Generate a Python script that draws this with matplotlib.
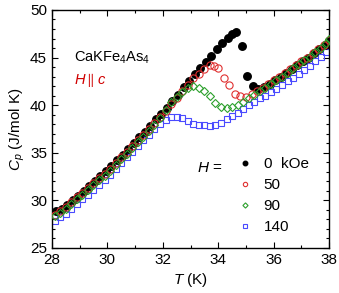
import matplotlib
matplotlib.use('Agg')
import matplotlib.pyplot as plt
from matplotlib.ticker import MultipleLocator

plt.rcParams['font.family'] = ['Liberation Sans', 'DejaVu Sans']
plt.rcParams['mathtext.fontset'] = 'custom'
plt.rcParams['mathtext.rm'] = 'Liberation Sans'
plt.rcParams['mathtext.it'] = 'Liberation Sans:italic'

# H = 0 kOe
T_0 = [28.15, 28.35, 28.55, 28.75, 28.95, 29.15, 29.35, 29.55, 29.75, 29.95,
       30.15, 30.35, 30.55, 30.75, 30.95, 31.15, 31.35, 31.55, 31.75, 31.95,
       32.15, 32.35, 32.55, 32.75, 32.95, 33.15, 33.35, 33.55, 33.75, 33.95,
       34.15, 34.35, 34.5, 34.65, 34.85, 35.05, 35.25, 35.45, 35.65, 35.85,
       36.05, 36.25, 36.45, 36.65, 36.85, 37.05, 37.25, 37.45, 37.65, 37.85, 38.0]
C_0 = [28.9, 29.1, 29.5, 30.0, 30.5, 31.0, 31.5, 32.0, 32.6, 33.1,
       33.6, 34.2, 34.8, 35.4, 36.0, 36.6, 37.2, 37.8, 38.5, 39.1,
       39.7, 40.4, 41.1, 41.9, 42.5, 43.3, 43.9, 44.5, 45.2, 45.9,
       46.5, 47.1, 47.5, 47.7, 46.2, 43.1, 42.0, 41.7, 41.9, 42.2,
       42.6, 43.0, 43.4, 43.8, 44.2, 44.6, 45.0, 45.45, 45.9, 46.35, 46.75]

# H = 50 kOe
T_50 = [28.1, 28.3, 28.5, 28.7, 28.9, 29.1, 29.3, 29.5, 29.7, 29.9,
        30.1, 30.3, 30.5, 30.7, 30.9, 31.1, 31.3, 31.5, 31.7, 31.9,
        32.1, 32.3, 32.5, 32.7, 32.9, 33.1, 33.3, 33.5, 33.7, 33.85,
        34.0, 34.2, 34.37, 34.6, 34.8, 35.0, 35.2, 35.4, 35.6, 35.8,
        36.0, 36.2, 36.4, 36.6, 36.8, 37.0, 37.2, 37.4, 37.6, 37.8, 38.0]
C_50 = [28.5, 28.9, 29.3, 29.8, 30.3, 30.8, 31.3, 31.8, 32.3, 32.8,
        33.3, 33.9, 34.5, 35.1, 35.7, 36.3, 36.9, 37.5, 38.1, 38.8,
        39.4, 40.1, 40.8, 41.5, 42.1, 42.8, 43.3, 43.8, 44.2, 44.15,
        43.95, 42.8, 42.1, 41.15, 41.0, 40.85, 41.2, 41.5, 41.85, 42.2,
        42.6, 43.0, 43.4, 43.8, 44.2, 44.6, 45.0, 45.45, 45.9, 46.35, 46.8]

# H = 90 kOe
T_90 = [28.1, 28.3, 28.5, 28.7, 28.9, 29.1, 29.3, 29.5, 29.7, 29.9,
        30.1, 30.3, 30.5, 30.7, 30.9, 31.1, 31.3, 31.5, 31.7, 31.9,
        32.1, 32.3, 32.5, 32.7, 32.9, 33.1, 33.3, 33.5, 33.7, 33.9,
        34.1, 34.3, 34.5, 34.7, 34.9, 35.1, 35.3, 35.5, 35.7, 35.9,
        36.1, 36.3, 36.5, 36.7, 36.9, 37.1, 37.3, 37.5, 37.7, 37.9, 38.0]
C_90 = [28.3, 28.7, 29.1, 29.6, 30.1, 30.6, 31.1, 31.6, 32.1, 32.6,
        33.1, 33.7, 34.3, 34.9, 35.5, 36.1, 36.7, 37.3, 37.9, 38.7,
        39.5, 40.3, 40.9, 41.4, 41.85, 42.0, 41.8, 41.45, 40.95, 40.2,
        39.8, 39.75, 39.85, 40.05, 40.3, 40.7, 41.1, 41.45, 41.8, 42.2,
        42.6, 43.0, 43.4, 43.85, 44.3, 44.7, 45.1, 45.55, 46.0, 46.5, 46.9]

# H = 140 kOe
T_140 = [28.1, 28.3, 28.5, 28.7, 28.9, 29.1, 29.3, 29.5, 29.7, 29.9,
         30.1, 30.3, 30.5, 30.7, 30.9, 31.1, 31.3, 31.5, 31.7, 31.9,
         32.1, 32.3, 32.5, 32.7, 32.9, 33.1, 33.3, 33.5, 33.7, 33.9,
         34.1, 34.3, 34.5, 34.7, 34.9, 35.1, 35.3, 35.5, 35.7, 35.9,
         36.1, 36.3, 36.5, 36.7, 36.9, 37.1, 37.3, 37.5, 37.7, 37.9, 38.0]
C_140 = [27.8, 28.2, 28.6, 29.1, 29.6, 30.1, 30.6, 31.1, 31.6, 32.1,
         32.7, 33.3, 33.9, 34.5, 35.1, 35.7, 36.3, 36.9, 37.5, 38.0,
         38.45, 38.8, 38.8, 38.6, 38.3, 38.05, 37.95, 37.9, 37.8, 37.9,
         38.15, 38.5, 38.85, 39.2, 39.6, 40.0, 40.35, 40.7, 41.0, 41.35,
         41.7, 42.1, 42.5, 42.9, 43.3, 43.7, 44.1, 44.6, 45.05, 45.6, 46.2]

labels = ['0  kOe', '50', '90', '140']

fig, ax = plt.subplots(figsize=(3.39, 2.93), dpi=100)
fig.subplots_adjust(left=0.153, right=0.971, top=0.966, bottom=0.154)

l0, = ax.plot(T_0, C_0, 'o', color='black', ms=5.4, mec='black', zorder=3)
l50, = ax.plot(T_50, C_50, 'o', color='#e03030', mfc='none', ms=5.2, mew=0.8, zorder=4)
l90, = ax.plot(T_90, C_90, 'D', color='#2ca02c', mfc='none', ms=4.4, mew=0.8, zorder=5)
l140, = ax.plot(T_140, C_140, 's', color='#4a4aff', mfc='none', ms=4.8, mew=0.8, zorder=2)

ax.set_xlim(28, 38)
ax.set_ylim(25, 50)
ax.xaxis.set_major_locator(MultipleLocator(2))
ax.xaxis.set_minor_locator(MultipleLocator(1))
ax.yaxis.set_major_locator(MultipleLocator(5))
ax.yaxis.set_minor_locator(MultipleLocator(1))
ax.tick_params(which='both', direction='in', top=True, right=True, labelsize=11, width=0.8)
ax.tick_params(which='major', length=4)
ax.tick_params(which='minor', length=2)
for s in ax.spines.values():
    s.set_linewidth(1.0)

ax.set_xlabel(r'$T$ (K)', fontsize=11, labelpad=3)
ax.set_ylabel(r'$C_p$ (J/mol K)', fontsize=11, labelpad=2)

ax.text(0.08, 0.80, r'CaKFe$_4$As$_4$', transform=ax.transAxes, fontsize=10.5, va='center')
ax.text(0.08, 0.705, r'$H\parallel c$', transform=ax.transAxes, fontsize=10.5, va='center', color='#d00000')

leg = ax.legend([l0, l50, l90, l140], labels, loc='upper left', bbox_to_anchor=(0.67, 0.38),
                frameon=False, fontsize=11, markerscale=0.6, handlelength=1.0,
                handletextpad=0.7, labelspacing=0.45, borderpad=0, borderaxespad=0)
ax.text(0.525, 0.335, r'$H$ =', transform=ax.transAxes, fontsize=11, va='center')

fig.savefig('out.png', dpi=100)
